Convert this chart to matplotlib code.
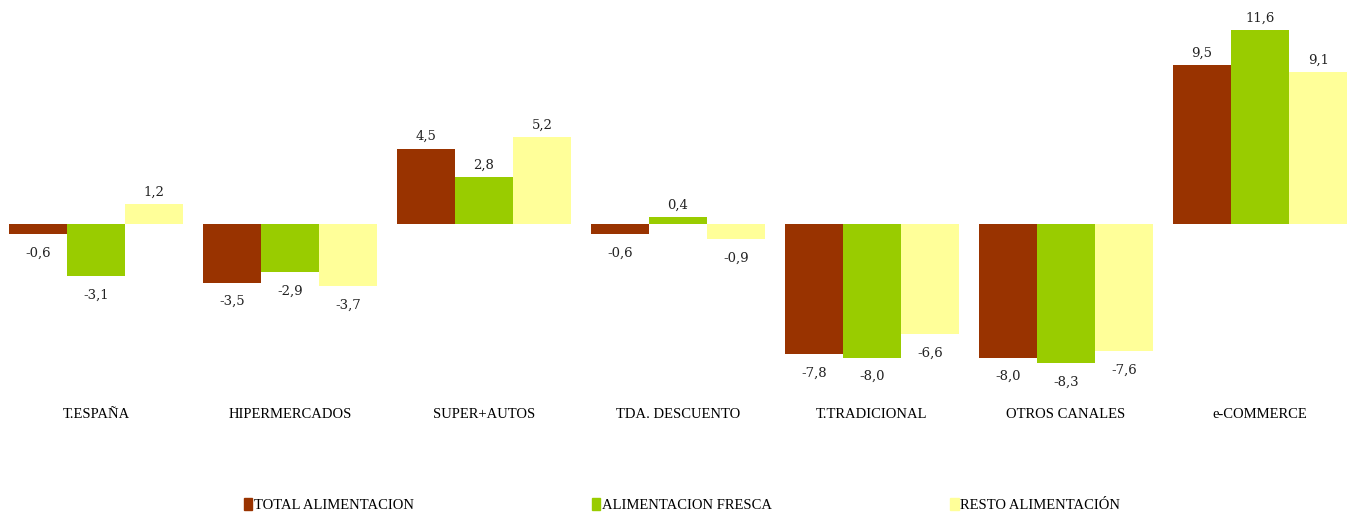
import numpy as np
import matplotlib.pyplot as plt
from matplotlib.patches import Patch

categories = ["T.ESPAÑA", "HIPERMERCADOS", "SUPER+AUTOS", "TDA. DESCUENTO",
              "T.TRADICIONAL", "OTROS CANALES", "e-COMMERCE"]
total_alim = [-0.6, -3.5, 4.5, -0.6, -7.8, -8.0, 9.5]
alim_fresca = [-3.1, -2.9, 2.8, 0.4, -8.0, -8.3, 11.6]
resto_alim = [1.2, -3.7, 5.2, -0.9, -6.6, -7.6, 9.1]

series = [
    ("TOTAL ALIMENTACION", total_alim, "#993300"),
    ("ALIMENTACION FRESCA", alim_fresca, "#99CC00"),
    ("RESTO ALIMENTACIÓN", resto_alim, "#FFFF99"),
]

fig = plt.figure(figsize=(13.5, 5.15), dpi=100)
ax = fig.add_axes([0, 1 - 380 / 515, 1, 370 / 515])

x = np.arange(len(categories))
w = 0.3
for i, (name, vals, col) in enumerate(series):
    pos = x + (i - 1) * w
    ax.bar(pos, vals, w, color=col, label=name, linewidth=0)
    for xp, v in zip(pos, vals):
        lab = f"{v:.1f}".replace(".", ",")
        ax.annotate(lab, (xp, v), xytext=(0, 4 if v >= 0 else -9),
                    textcoords="offset points", ha="center",
                    va="bottom" if v >= 0 else "top",
                    fontsize=9.5, family="DejaVu Serif", color="#222222")

ax.set_xlim(-96 / 194, 1254 / 194)
ax.set_ylim(-156 / 16.72, 214 / 16.72)
ax.set_yticks([])
ax.set_xticks(x)
ax.set_xticklabels(categories, family="Liberation Serif", fontsize=10.5)
ax.tick_params(axis="x", length=0, pad=20)
for s in ax.spines.values():
    s.set_visible(False)

handles = [Patch(color=c, label=n) for n, _, c in series]
fig.legend(handles=handles, loc="center", bbox_to_anchor=(0.505, 1 - 505 / 515),
           ncol=3, frameon=False, handlelength=0.6, handleheight=0.9,
           handletextpad=0.1, columnspacing=12.2,
           prop={"family": "Liberation Serif", "size": 10.5})

fig.savefig("out.png", dpi=100)
